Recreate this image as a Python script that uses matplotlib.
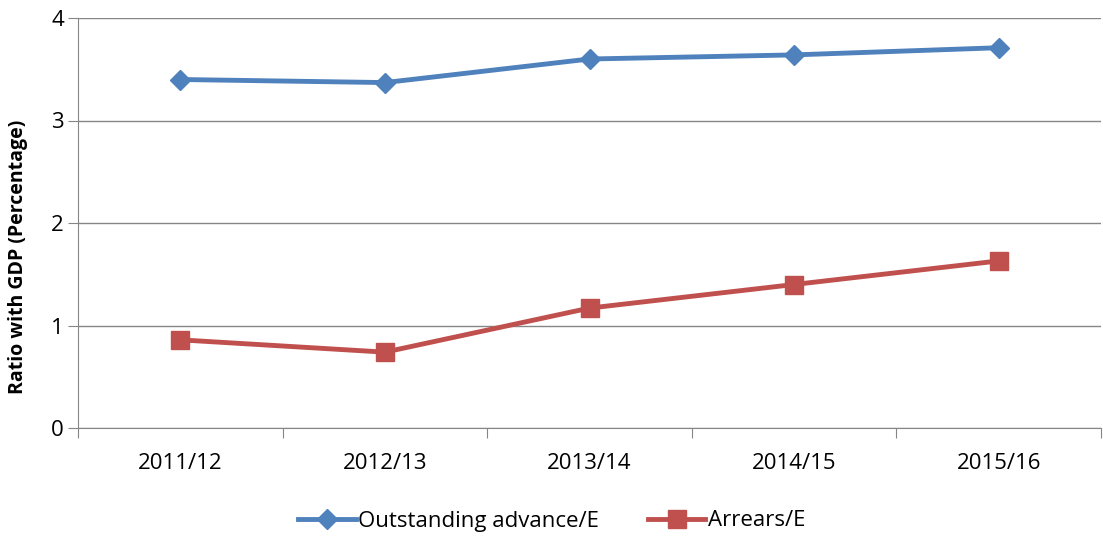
import matplotlib.pyplot as plt

years = ['2011/12', '2012/13', '2013/14', '2014/15', '2015/16']
outstanding = [3.40, 3.37, 3.60, 3.64, 3.71]
arrears = [0.86, 0.74, 1.17, 1.40, 1.63]

plt.rcParams['font.family'] = ['Open Sans', 'DejaVu Sans']

fig = plt.figure(figsize=(11.03, 5.38), dpi=100)
ax = fig.add_axes([78 / 1103, 1 - 428 / 538, (1101 - 78) / 1103, (428 - 18) / 538])

x = range(len(years))
ax.plot(x, outstanding, color='#4F81BD', lw=3.5, marker='D', ms=10.5, label='Outstanding advance/E')
ax.plot(x, arrears, color='#C0504D', lw=3.5, marker='s', ms=13.5, label='Arrears/E')

ax.set_xlim(-0.5, len(years) - 0.5)
ax.set_ylim(0, 4)
ax.set_yticks([0, 1, 2, 3, 4])
ax.set_xticks([i - 0.5 for i in range(len(years) + 1)], minor=False)
ax.set_xticklabels([])
ax.set_xticks(list(x), minor=True)
ax.set_xticklabels(years, minor=True)
ax.tick_params(axis='x', which='major', length=7, direction='out', color='#868686')
ax.tick_params(axis='x', which='minor', length=0, pad=18, labelsize=16)
ax.tick_params(axis='y', length=7, color='#868686', labelsize=16, pad=3)
ax.grid(axis='y', color='#868686', lw=1)
ax.set_axisbelow(True)
for s in ['top', 'right']:
    ax.spines[s].set_visible(False)
for s in ['left', 'bottom']:
    ax.spines[s].set_color('#868686')
ax.set_ylabel('Ratio with GDP (Percentage)', fontsize=14, fontweight='bold')
ax.yaxis.set_label_coords(-50 / 1023, (428 - 257) / 410)

fig.legend(loc='center', bbox_to_anchor=(0.5, 1 - 521 / 538), ncol=2, frameon=False,
           fontsize=16, handlelength=2.6, handletextpad=0.1, columnspacing=2.2)

plt.savefig('out.png', dpi=100)
